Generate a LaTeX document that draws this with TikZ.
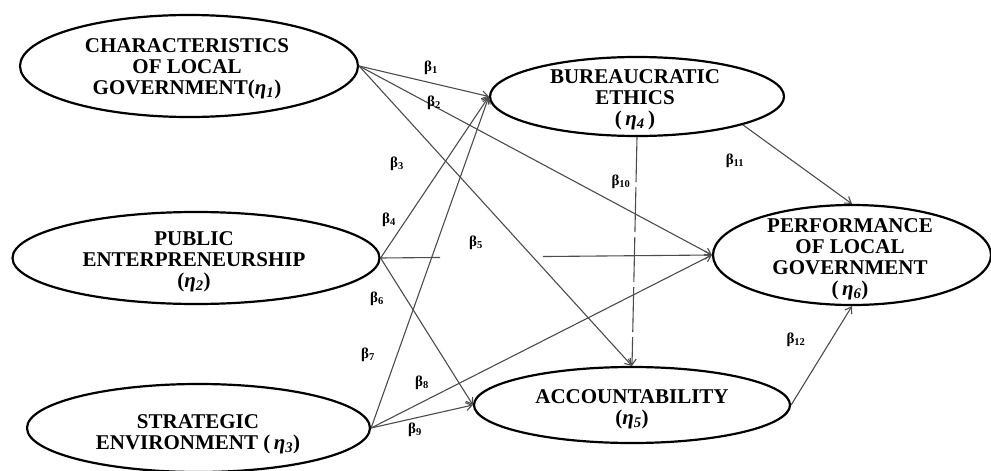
\documentclass[tikz,border=0pt]{standalone}
\usepackage{fontspec}
\setmainfont{Liberation Serif}
\usetikzlibrary{shapes.geometric,arrows.meta,calc}
\begin{document}
\begin{tikzpicture}[x=1pt,y=-1pt,
  latent/.style={ellipse,draw=black,line width=2.2pt,inner sep=0pt},
  ltext/.style={inner sep=0pt,align=center,
    font=\fontsize{21}{21}\selectfont\bfseries},
  conn/.style={draw=black!70,line width=1.1pt},
  arr/.style={conn,-{Straight Barb[length=6pt,width=8pt]}},
  coef/.style={font=\fontsize{15}{15}\selectfont\bfseries,inner sep=0pt}]
\useasboundingbox (0,0) rectangle (991,471);
% latent variables
\node[latent,minimum width=338pt,minimum height=102pt] (E1) at (189,66) {};
\node[latent,minimum width=367pt,minimum height=92pt] (E2) at (196,258) {};
\node[latent,minimum width=343pt,minimum height=88pt] (E3) at (198.5,428) {};
\node[latent,minimum width=294pt,minimum height=79pt] (E4) at (637,96.5) {};
\node[latent,minimum width=278pt,minimum height=100pt] (E5) at (852,255) {};
\node[latent,minimum width=316pt,minimum height=76pt] (E6) at (632,405) {};
% their texts
\node[ltext] (T1) at (187,69)
  {CHARACTERISTICS\\OF LOCAL\\GOVERNMENT(\textit{η\textsubscript{1}})};
\node[ltext] (T2) at (194,262)
  {PUBLIC\\ENTERPRENEURSHIP\\(\textit{η\textsubscript{2}})};
\node[ltext] (T3) at (198,434)
  {STRATEGIC\\ENVIRONMENT (\,\textit{η\textsubscript{3}})};
\node[ltext] (T4) at (635,99.5)
  {BUREAUCRATIC\\ETHICS\\(\,\textit{η\textsubscript{4}}\,)};
\node[ltext] (T5) at (850,259)
  {PERFORMANCE\\OF LOCAL\\GOVERNMENT\\(\,\textit{η\textsubscript{6}})};
\node[ltext] (T6) at (632,409)
  {ACCOUNTABILITY\\(\textit{η\textsubscript{5}})};
% gap points on the beta5 path
\coordinate (g1) at ($(E2.east)!0.18!(E5.west)$);
\coordinate (g2) at ($(E2.east)!0.49!(E5.west)$);
% paths
\draw[arr] (E1.east) -- (E4.west);
\draw[arr] (E1.east) -- (E5.west);
\draw[arr] (E1.east) -- (E6.north);
\draw[arr] (E2.east) -- (E4.west);
\draw[conn] (E2.east) -- (g1);
\draw[arr] (g2) -- (E5.west);
\draw[arr] (E2.east) -- (E6.west);
\draw[arr] (E3.east) -- (E4.west);
\draw[arr] (E3.east) -- (E5.west);
\draw[arr] (E3.east) -- (E6.west);
\draw[arr,dash pattern=on 45pt off 5pt] (E4.south) -- (E6.north);
\draw[arr] (E4.-15) -- (E5.north);
\draw[arr] (E6.east) -- (E5.south);
% coefficients
\node[coef] (b1) at (431,68) {β\textsubscript{1}};
\node[coef] (b2) at (434,103) {β\textsubscript{2}};
\node[coef] (b3) at (397,164) {β\textsubscript{3}};
\node[coef] (b4) at (389,220) {β\textsubscript{4}};
\node[coef] (b5) at (476,243) {β\textsubscript{5}};
\node[coef] (b6) at (377,299) {β\textsubscript{6}};
\node[coef] (b7) at (368,355) {β\textsubscript{7}};
\node[coef] (b8) at (422,383) {β\textsubscript{8}};
\node[coef] (b9) at (415,430) {β\textsubscript{9}};
\node[coef] (b10) at (621,182) {β\textsubscript{10}};
\node[coef] (b11) at (735,161) {β\textsubscript{11}};
\node[coef] (b12) at (796,340) {β\textsubscript{12}};
\end{tikzpicture}
\end{document}
